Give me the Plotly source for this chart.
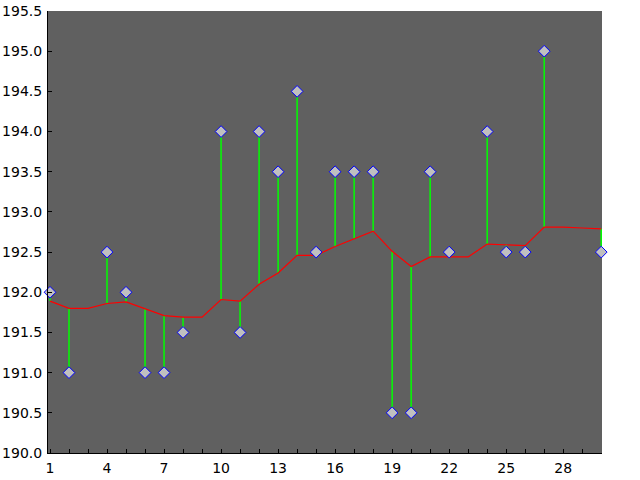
import plotly.graph_objects as go

# 观测值 (None = 缺测)
days = list(range(1, 31))
values = [192.0, 191.0, None, 192.5, 192.0, 191.0, 191.0, 191.5, None, 194.0,
          191.5, 194.0, 193.5, 194.5, 192.5, 193.5, 193.5, 193.5, 190.5, 190.5,
          193.5, 192.5, None, 194.0, 192.5, 192.5, 195.0, None, None, 192.5]
# 平滑曲线
smooth = [191.89, 191.80, 191.80, 191.86, 191.88, 191.79, 191.71, 191.69, 191.69, 191.91,
          191.89, 192.10, 192.24, 192.46, 192.46, 192.57, 192.67, 192.76, 192.51, 192.32,
          192.44, 192.44, 192.44, 192.60, 192.59, 192.58, 192.81, 192.81, 192.80, 192.79]

# 偏差竖线
sx, sy = [], []
for d, v, s in zip(days, values, smooth):
    if v is None:
        continue
    sx += [d, d, None]
    sy += [v, s, None]

fig = go.Figure()
fig.add_trace(go.Scatter(x=sx, y=sy, mode="lines", line=dict(color="#00ff00", width=1.5),
                         hoverinfo="skip"))
fig.add_trace(go.Scatter(x=days, y=smooth, mode="lines", line=dict(color="#ff0000", width=1.2)))
fig.add_trace(go.Scatter(x=days, y=values, mode="markers", cliponaxis=False,
                         marker=dict(symbol="diamond", size=9, color="#c0c0c0",
                                     line=dict(color="#0000ff", width=1))))

fig.update_layout(
    width=640, height=480,
    margin=dict(l=48, r=38, t=11, b=27),
    paper_bgcolor="white", plot_bgcolor="#606060",
    showlegend=False,
    font=dict(family="DejaVu Sans", size=14, color="black"),
)
fig.update_xaxes(range=[0.895, 30.04], tickmode="linear", tick0=1, dtick=3, automargin=False,
                 showgrid=False, zeroline=False, showline=True, linecolor="black", linewidth=1,
                 ticks="inside", ticklen=4, tickcolor="black", ticklabelstandoff=2,
                 minor=dict(tickmode="linear", tick0=1, dtick=1, ticks="inside", ticklen=4,
                            tickcolor="black", showgrid=False))
fig.update_yaxes(range=[190.0, 195.5], tickmode="linear", tick0=190, dtick=0.5, tickformat=".1f",
                 automargin=False, ticklabelstandoff=2,
                 showgrid=False, zeroline=False, showline=True, linecolor="black", linewidth=1,
                 ticks="inside", ticklen=4, tickcolor="black")

# 去掉页面默认边距
fig.write_html("out.html", config={"displayModeBar": False},
               post_script="document.body.style.margin='0';")
